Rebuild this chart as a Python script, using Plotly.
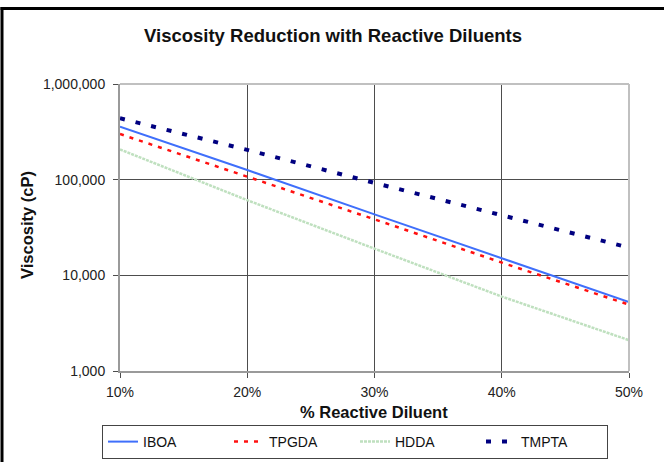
import plotly.graph_objects as go

diluent_pct = [10, 20, 30, 40, 50]
iboa = [358000, 126000, 43400, 15100, 5250]
tpgda = [300000, 108000, 38500, 13600, 4940]
hdda = [207000, 61000, 19000, 6000, 2100]
tmpta = [438000, 205000, 92500, 42500, 19500]

y_tickvals = [1000, 10000, 100000, 1000000]
y_ticktext = ["1,000", "10,000", "100,000", "1,000,000"]
x_ticktext = ["10%", "20%", "30%", "40%", "50%"]

FONT = "Liberation Sans, Arial, sans-serif"

fig = go.Figure()
fig.add_trace(go.Scatter(x=diluent_pct, y=iboa, name="IBOA", mode="lines",
                         line=dict(color="#3f6ffb", width=2)))
fig.add_trace(go.Scatter(x=diluent_pct, y=tpgda, name="TPGDA", mode="lines",
                         line=dict(color="#ff1010", width=2.5, dash="4px,6px")))
fig.add_trace(go.Scatter(x=diluent_pct, y=hdda, name="HDDA", mode="lines",
                         line=dict(color="#bfe0bf", width=2.5, dash="3px,1px")))
fig.add_trace(go.Scatter(x=diluent_pct, y=tmpta, name="TMPTA", mode="lines",
                         line=dict(color="#000080", width=4, dash="5px,11px")))

W, H = 664, 462
L, R, T, B = 120, 35, 84, 91
pw, ph = W - L - R, H - T - B

def px2x(px):
    return (px - L) / pw

def px2y(py):
    return (H - B - py) / ph

shapes = [
    # outer chart border (left and top)
    dict(type="line", xref="paper", yref="paper", x0=px2x(2), x1=px2x(2),
         y0=px2y(462), y1=px2y(7), line=dict(color="black", width=3), layer="above"),
    dict(type="line", xref="paper", yref="paper", x0=px2x(0.5), x1=px2x(664),
         y0=px2y(8.5), y1=px2y(8.5), line=dict(color="black", width=3), layer="above"),
    # plot area top / right border
    dict(type="line", xref="paper", yref="paper", x0=0, x1=1, y0=1, y1=1,
         line=dict(color="#c0c0c0", width=2), layer="above"),
    dict(type="line", xref="paper", yref="paper", x0=1, x1=1, y0=0, y1=1,
         line=dict(color="#c0c0c0", width=2), layer="above"),
]

fig.update_layout(
    width=W, height=H,
    margin=dict(l=L, r=R, t=T, b=B, autoexpand=False),
    paper_bgcolor="white", plot_bgcolor="white",
    font=dict(family=FONT, color="#111111"),
    title=dict(text="Viscosity Reduction with Reactive Diluents",
               font=dict(family=FONT, size=18.5, weight="bold", color="#111111"),
               x=333 / W, xanchor="center", y=1 - 36 / H, yanchor="middle"),
    xaxis=dict(range=[10, 50], tickvals=diluent_pct, ticktext=x_ticktext,
               showgrid=True, gridcolor="#4d4d4d", gridwidth=1,
               showline=True, linecolor="#9a9a9a", linewidth=2,
               ticks="outside", ticklen=5, tickcolor="#4d4d4d",
               ticklabelstandoff=2,
               tickfont=dict(size=14, color="#222222"), zeroline=False),
    yaxis=dict(type="log", range=[3, 6], tickvals=y_tickvals, ticktext=y_ticktext,
               showgrid=True, gridcolor="#4d4d4d", gridwidth=1,
               showline=True, linecolor="#9a9a9a", linewidth=2,
               ticks="outside", ticklen=5, tickcolor="#4d4d4d",
               ticklabelstandoff=5,
               tickfont=dict(size=14, color="#222222"), zeroline=False),
    showlegend=True,
    legend=dict(orientation="h", x=px2x(102), y=px2y(425), xanchor="left", yanchor="top",
                bordercolor="#444444", borderwidth=1, bgcolor="white",
                font=dict(size=14, family=FONT, color="#111111"),
                entrywidth=81, entrywidthmode="pixels"),
    shapes=shapes,
    annotations=[
        dict(text="% Reactive Diluent", xref="paper", yref="paper",
             x=px2x(374), y=px2y(412), xanchor="center", yanchor="middle",
             showarrow=False, font=dict(size=16.5, weight="bold", family=FONT, color="#111111")),
        dict(text="Viscosity (cP)", xref="paper", yref="paper", textangle=-90,
             x=px2x(27), y=px2y(225), xanchor="center", yanchor="middle",
             showarrow=False, font=dict(size=16.5, weight="bold", family=FONT, color="#111111")),
    ],
)

fig.write_html("out.html", config={"displayModeBar": False},
               post_script="document.body.style.margin='0';")
